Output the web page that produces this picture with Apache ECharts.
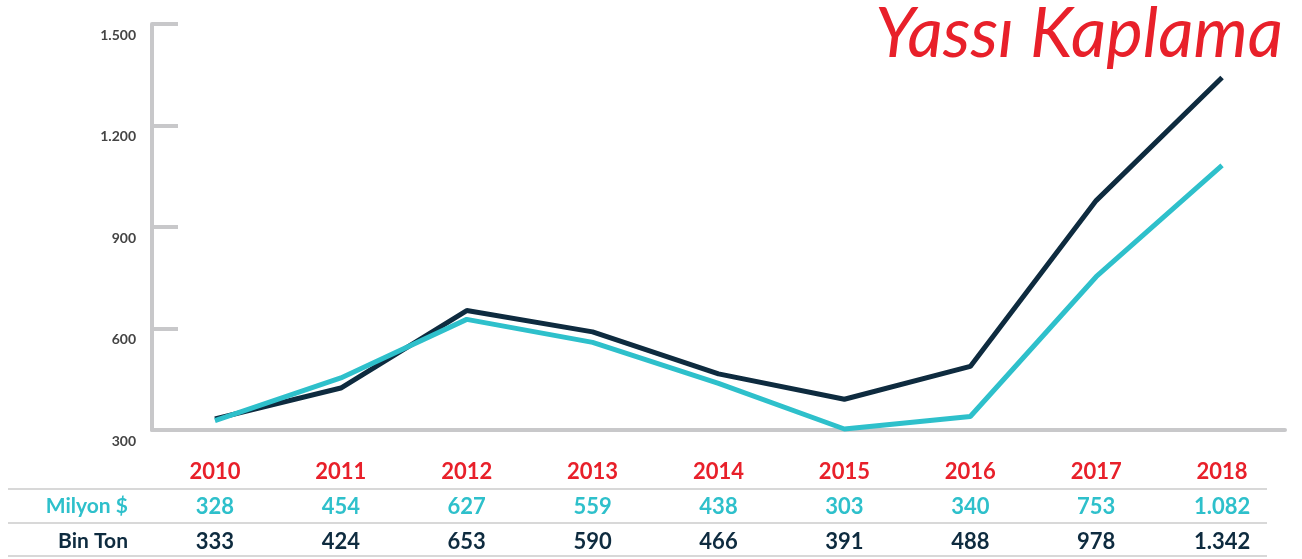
<!DOCTYPE html>
<html>
<head>
<meta charset="utf-8">
<script src="https://cdn.jsdelivr.net/npm/echarts@6/dist/echarts.min.js"></script>
<style>
html,body{margin:0;padding:0;background:#fff;}
#chart{width:1302px;height:559px;}
</style>
</head>
<body>
<div id="chart"></div>
<script>
var years = ['2010','2011','2012','2013','2014','2015','2016','2017','2018'];
var milyonUSD = [328, 454, 627, 559, 438, 303, 340, 753, 1082];
var binTon = [333, 424, 653, 590, 466, 391, 488, 978, 1342];
var yTicks = [300, 600, 900, 1200, 1500];
var titleText = 'Yassı Kaplama';
var rowLabels = ['Milyon $', 'Bin Ton'];

var FONT = 'Lato, "Open Sans", sans-serif';
var RED = '#e8202a', TEAL = '#2ec0cb', NAVY = '#0e2b3f', AXIS = '#c8c8ca', SEP = '#d8d8d8';

function trNum(v) {
  return String(v).replace(/\B(?=(\d{3})+(?!\d))/g, '.');
}

var chart = echarts.init(document.getElementById('chart'));

function tableAxis(values, color, offset) {
  return {
    type: 'category', data: values.map(trNum), position: 'bottom', offset: offset,
    axisLine: {show: false}, axisTick: {show: false}, splitLine: {show: false},
    axisLabel: {interval: 0, margin: 42, verticalAlign: 'middle', color: color,
      fontFamily: FONT, fontWeight: 'bold', fontSize: 22}
  };
}

chart.setOption({
  animation: false,
  grid: {left: 152, right: 17, top: 24, bottom: 129},
  xAxis: [
    {
      type: 'category', data: years, boundaryGap: true,
      axisLine: {lineStyle: {color: AXIS, width: 4}},
      axisTick: {inside: true, length: 10, lineStyle: {color: AXIS, width: 4}},
      axisLabel: {interval: 0, margin: 42, verticalAlign: 'middle', color: RED,
        fontFamily: FONT, fontWeight: 'bold', fontSize: 22},
      splitLine: {show: false}
    },
    tableAxis(milyonUSD, TEAL, 35),
    tableAxis(binTon, NAVY, 70)
  ],
  yAxis: {
    type: 'value', min: yTicks[0], max: yTicks[yTicks.length - 1], interval: 300,
    axisLine: {show: true, lineStyle: {color: AXIS, width: 4}},
    axisTick: {show: true, inside: true, length: 26, lineStyle: {color: AXIS, width: 4}},
    splitLine: {show: false},
    axisLabel: {margin: 16, verticalAlign: 'top', padding: [4, 0, 0, 0], color: '#444',
      fontFamily: FONT, fontWeight: 'bold', fontSize: 14, formatter: trNum}
  },
  series: [
    {name: 'Bin Ton', type: 'line', data: binTon, showSymbol: false, symbol: 'none',
      lineStyle: {color: NAVY, width: 5}, z: 3},
    {name: 'Milyon $', type: 'line', data: milyonUSD, showSymbol: false, symbol: 'none',
      lineStyle: {color: TEAL, width: 5}, z: 4}
  ],
  graphic: [
    {type: 'text', x: 1283, y: 0, style: {text: titleText, fill: RED, align: 'right',
      verticalAlign: 'top', font: 'italic 69px ' + FONT}},
    {type: 'text', x: 128, y: 506, style: {text: rowLabels[0], fill: TEAL, align: 'right',
      verticalAlign: 'middle', font: 'bold 21px ' + FONT}},
    {type: 'text', x: 128, y: 541, style: {text: rowLabels[1], fill: NAVY, align: 'right',
      verticalAlign: 'middle', font: 'bold 21px ' + FONT}},
    {type: 'line', shape: {x1: 8, y1: 489, x2: 1267, y2: 489}, style: {stroke: SEP, lineWidth: 2}},
    {type: 'line', shape: {x1: 8, y1: 523, x2: 1267, y2: 523}, style: {stroke: SEP, lineWidth: 2}},
    {type: 'line', shape: {x1: 8, y1: 556, x2: 1267, y2: 556}, style: {stroke: SEP, lineWidth: 2}}
  ]
});
</script>
</body>
</html>
